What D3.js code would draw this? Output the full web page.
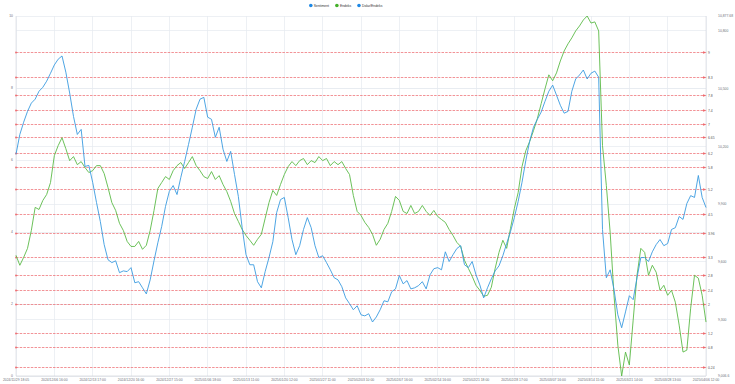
<!DOCTYPE html>
<html><head><meta charset="utf-8">
<script src="https://cdn.jsdelivr.net/npm/d3@7"></script>
<style>html,body{margin:0;padding:0;background:#fff;}svg{display:block;font-family:Arial,"Liberation Sans",sans-serif;}</style>
</head><body><svg id="c" width="735" height="384"></svg>
<script>
const seriesNames = ["Sentiment", "Endeks", "Dolar/Endeks"];
const tickLabels = ["2024/11/29 18:05","2024/12/06 16:00","2024/12/13 17:00","2024/12/20 16:00","2024/12/27 15:00","2025/01/06 18:00","2025/01/13 11:00","2025/01/20 12:00","2025/01/27 11:00","2025/02/03 10:00","2025/02/07 16:00","2025/02/14 16:00","2025/02/21 18:00","2025/02/28 17:00","2025/03/07 16:00","2025/03/14 15:00","2025/03/21 14:00","2025/03/28 13:00","2025/04/06 12:00"];
const sentiment = [6.16,6.71,7.05,7.35,7.58,7.69,7.91,8.02,8.19,8.41,8.64,
8.80,8.89,8.44,7.86,7.21,6.71,6.85,5.82,5.85,5.38,
4.82,4.29,3.65,3.23,3.15,3.20,2.87,2.92,2.90,3.01,
2.59,2.62,2.45,2.28,2.67,3.20,3.70,4.15,4.71,5.13,
5.29,5.04,5.52,5.96,6.43,6.91,7.41,7.69,7.74,7.19,
7.13,6.63,6.91,6.30,5.96,6.24,5.60,4.99,4.12,3.37,
3.09,3.09,2.62,2.45,2.90,3.29,3.73,4.54,4.90,4.96,
4.40,3.79,3.37,3.62,4.07,4.40,4.12,3.62,3.29,3.34,
3.15,2.95,2.73,2.67,2.48,2.17,2.01,1.84,1.95,1.70,
1.67,1.73,1.50,1.64,1.84,2.09,2.06,2.34,2.42,2.79,
2.56,2.65,2.42,2.45,2.51,2.62,2.42,2.81,2.98,3.01,
2.95,3.45,3.18,3.37,3.54,3.62,3.09,3.01,3.18,2.81,
2.53,2.17,2.45,2.70,2.92,3.06,3.34,3.68,4.01,4.40,
4.85,5.38,5.99,6.52,6.91,7.13,7.33,7.63,7.91,8.08,
7.80,7.52,7.30,7.35,7.91,8.25,8.36,8.50,8.25,8.41,
8.47,8.30,4.07,2.73,2.95,2.40,1.70,1.34,1.78,2.23,
2.12,2.73,3.29,3.29,3.18,3.45,3.65,3.79,3.62,3.68,
4.07,4.12,4.43,4.35,4.79,5.01,4.96,5.57,4.96,4.68];
const endeks = [9634,9582,9623,9670,9763,9883,9872,9919,9950,10012,10152,
10204,10245,10188,10126,10147,10105,10121,10090,10064,10074,
10100,10100,10059,9986,9908,9867,9800,9763,9706,9680,
9680,9706,9665,9686,9763,9867,9981,10012,10043,10028,
10074,10100,10116,10085,10116,10147,10100,10074,10043,10033,
10069,10028,10048,10002,9965,9914,9851,9810,9768,9737,
9712,9686,9717,9743,9826,9908,9971,9945,10002,10054,
10095,10121,10100,10126,10137,10105,10126,10116,10147,10126,
10137,10100,10121,10105,10121,10085,10054,9945,9862,9841,
9805,9779,9743,9686,9717,9768,9800,9862,9940,9919,
9862,9851,9893,9851,9862,9893,9862,9841,9867,9836,
9820,9805,9768,9737,9701,9680,9608,9566,9525,9478,
9452,9421,9426,9468,9566,9649,9712,9670,9774,9877,
9960,10095,10178,10225,10282,10344,10422,10499,10572,10541,
10582,10644,10696,10733,10764,10800,10826,10857,10877.68,10841,
10847,10800,10204,9997,9753,9426,9167,9006.6,9131,9064,
9297,9530,9670,9649,9530,9582,9546,9452,9478,9426,
9452,9390,9271,9131,9141,9359,9530,9515,9426,9287];
const leftTicks = [0,2,4,6,8,10];
const rightTicks = [9300,9600,9900,10200,10500,10800];
const markValues = [9,8.3,7.8,7.4,7,6.65,6.2,5.8,5.2,4.5,3.96,3.3,2.8,2.4,2,1.2,0.8,0.24];

const W = 735, H = 384;
const m = {l:16, r:29, t:16, b:8};
const svg = d3.select("#c");
const fs = 3.4, txt = "#6E7079", gridC = "#E6E9F0";
const n = sentiment.length;
const x = d3.scaleLinear().domain([0, n-1]).range([m.l, W - m.r]);
const yL = d3.scaleLinear().domain([0,10]).range([H - m.b, m.t]);
const yR = d3.scaleLinear().domain([d3.min(endeks), d3.max(endeks)]).range([H - m.b, m.t]);
const step = (n-1)/(tickLabels.length-1);
const tickIdx = tickLabels.map((d,i)=>i*step);

// grid
const g = svg.append("g").attr("shape-rendering","crispEdges");
g.selectAll(".vg").data(tickIdx).join("line")
 .attr("x1",d=>x(d)).attr("x2",d=>x(d)).attr("y1",m.t).attr("y2",H-m.b)
 .attr("stroke",gridC).attr("stroke-width",0.7);
g.selectAll(".hl").data(leftTicks).join("line")
 .attr("x1",m.l).attr("x2",W-m.r).attr("y1",d=>yL(d)).attr("y2",d=>yL(d))
 .attr("stroke",gridC).attr("stroke-width",0.7);
g.selectAll(".hr").data(rightTicks).join("line")
 .attr("x1",m.l).attr("x2",W-m.r).attr("y1",d=>yR(d)).attr("y2",d=>yR(d))
 .attr("stroke",gridC).attr("stroke-width",0.7);

// axis lines
svg.append("line").attr("x1",m.l).attr("x2",W-m.r).attr("y1",H-m.b).attr("y2",H-m.b).attr("stroke","#C9CCD3").attr("stroke-width",0.6);
svg.append("line").attr("x1",m.l).attr("x2",m.l).attr("y1",m.t).attr("y2",H-m.b).attr("stroke","#D6D9DF").attr("stroke-width",0.6);
svg.append("line").attr("x1",W-m.r).attr("x2",W-m.r).attr("y1",m.t).attr("y2",H-m.b).attr("stroke","#D6D9DF").attr("stroke-width",0.6);

// axis labels
svg.selectAll(".lt").data(leftTicks).join("text")
 .attr("x",m.l-3).attr("y",d=>yL(d)).attr("dy","0.35em").attr("text-anchor","end")
 .attr("font-size",fs).attr("fill",txt).text(d=>d);
const rVals = [d3.max(endeks), ...rightTicks.slice().reverse(), d3.min(endeks)];
svg.selectAll(".rt").data(rVals).join("text")
 .attr("x",W-m.r+12).attr("y",d=>yR(d)).attr("dy","0.35em").attr("text-anchor","start")
 .attr("font-size",fs).attr("fill",txt).text(d=>d3.format(",")(d));
svg.selectAll(".xt").data(tickLabels).join("text")
 .attr("x",(d,i)=>x(tickIdx[i])).attr("y",H-m.b+4.5).attr("text-anchor","middle")
 .attr("font-size",fs).attr("fill",txt).text(d=>d);

// mark lines
const red = "#EE6A6E";
const ml = svg.append("g");
markValues.forEach(v=>{
  const yy = Math.round(yL(v)) + 0.5;
  ml.append("line").attr("x1",m.l).attr("x2",W-m.r-2).attr("y1",yy).attr("y2",yy)
    .attr("stroke",red).attr("stroke-width",0.8).attr("stroke-dasharray","2.5,1.2").attr("opacity",0.9);
  ml.append("circle").attr("cx",m.l).attr("cy",yy).attr("r",0.9).attr("fill",red);
  ml.append("path").attr("d",`M${W-m.r-3},${yy-1.2}L${W-m.r+0.5},${yy}L${W-m.r-3},${yy+1.2}Z`).attr("fill",red);
  ml.append("text").attr("x",W-m.r+2).attr("y",yy).attr("dy","0.35em").attr("font-size",fs).attr("fill","#555").text(v);
});

// lines
const lineL = d3.line().x((d,i)=>x(i)).y(d=>yL(d));
const lineR = d3.line().x((d,i)=>x(i)).y(d=>yR(d));
svg.append("path").datum(endeks).attr("d",lineR).attr("fill","none").attr("stroke","#5BBA47").attr("stroke-width",0.9).attr("stroke-linejoin","round");
svg.append("path").datum(sentiment).attr("d",lineL).attr("fill","none").attr("stroke","#3A9BE0").attr("stroke-width",0.9).attr("stroke-linejoin","round");

// legend
const colors = ["#1E88E5","#43B02A","#1E88E5"];
const lg = svg.append("g");
let lx = 309;
seriesNames.forEach((s,i)=>{
  lg.append("circle").attr("cx",lx+1.8).attr("cy",5.5).attr("r",1.8).attr("fill",colors[i]);
  const t = lg.append("text").attr("x",lx+4.8).attr("y",5.5).attr("dy","0.35em").attr("font-size",fs).attr("fill","#333").text(s);
  lx += 4.8 + t.node().getComputedTextLength() + 6;
});
</script></body></html>
